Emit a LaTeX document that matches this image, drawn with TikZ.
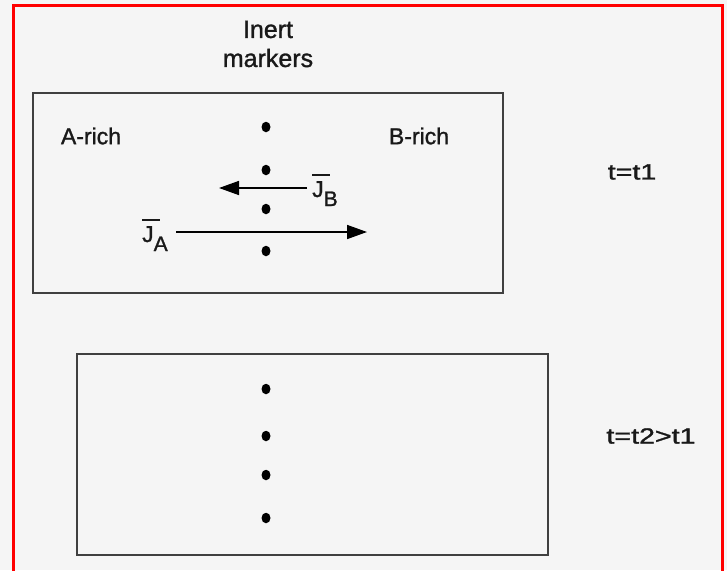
\documentclass[tikz,border=0pt]{standalone}
\usepackage{fontspec}
\setmainfont[FakeBold=1.2]{Liberation Sans}
\usetikzlibrary{arrows.meta,shapes.geometric}
\newcommand{\barJ}{\makebox[0pt][l]{\hspace{0pt}\raisebox{21pt}{\rule{18pt}{1.6pt}}}J}
\begin{document}
\begin{tikzpicture}[x=1pt,y=-1pt,
  lbl/.style={font=\fontsize{23}{26}\selectfont, text=black!90, inner sep=0pt},
  panel/.style={draw=black!75, line width=1.8pt},
  marker/.style={ellipse, fill=black, inner sep=0pt, minimum width=9pt, minimum height=10.5pt},
  flux/.style={line width=1.6pt, -{Triangle[length=20pt,width=14pt]}}]
\fill[black!4] (0,0) rectangle (727,570);
\useasboundingbox (0,0) rectangle (727,570);
\draw[red, line width=3pt] (13.5,571) -- (13.5,5.5) -- (722.5,5.5) -- (722.5,571);
% panels
\node[panel, minimum width=470pt, minimum height=200pt, inner sep=0pt] (top) at (268,193) {};
\node[panel, minimum width=471pt, minimum height=201pt, inner sep=0pt] (bot) at (312.5,454.5) {};
% labels
\node[lbl, font=\fontsize{25}{29}\selectfont, align=center] (inert) at (268,44) {Inert\\markers};
\node[lbl] (arich) at (91,136) {A-rich};
\node[lbl] (brich) at (419,136) {B-rich};
\node[lbl, font=\fontsize{22}{26}\selectfont, xscale=1.3, transform shape] (t1) at (632,172) {t=t1};
\node[lbl, font=\fontsize{22}{26}\selectfont, xscale=1.3, transform shape] (t2) at (651,436) {t=t2>t1};
% markers
\foreach \y [count=\i] in {127,170,209,251} \node[marker] (m\i) at (266,\y) {};
\foreach \y [count=\i] in {389,436,475,518} \node[marker] (n\i) at (266,\y) {};
% fluxes
\node[lbl, anchor=base west] (jb) at (312,197) {\barJ\raisebox{-9pt}{\fontsize{21}{22}\selectfont B}};
\node[lbl, anchor=base west] (ja) at (142,242) {\barJ\raisebox{-9pt}{\fontsize{21}{22}\selectfont A}};
\coordinate (jbs) at (307,188);
\coordinate (jbe) at (219,188);
\coordinate (jas) at (176,232);
\coordinate (jae) at (367,232);
\draw[flux] (jbs) -- (jbe);
\draw[flux] (jas) -- (jae);
\end{tikzpicture}
\end{document}
